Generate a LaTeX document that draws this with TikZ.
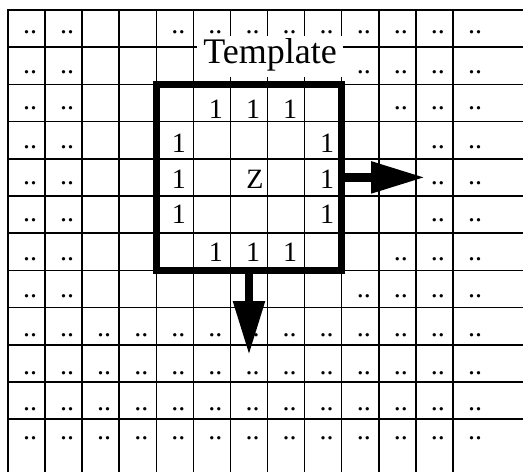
\documentclass[tikz,border=0pt]{standalone}
\usepackage{fontspec}
\setmainfont{Liberation Serif}
\usetikzlibrary{arrows.meta}
\begin{document}
\begin{tikzpicture}[x=1pt,y=-1pt,
  gridline/.style={line width=1.5pt, black, line cap=rect},
  dotlbl/.style={font=\fontsize{28}{30}\selectfont, anchor=base, inner sep=0pt},
  numlbl/.style={font=\fontsize{28}{30}\selectfont, anchor=base, inner sep=0pt},
  tmplbox/.style={draw, line width=6.5pt, minimum width=185.4pt, minimum height=186pt, inner sep=0pt},
  bigarrow/.style={line width=8.5pt, -{Triangle[length=54pt,width=30pt]}},
  lbl/.style={font=\fontsize{36}{40}\selectfont, fill=white, anchor=base, text height=23pt, text depth=10pt, inner xsep=6pt, inner ysep=4pt}
]
\useasboundingbox (0,0) rectangle (523,472);
% grid
\foreach \i in {0,...,12} \draw[gridline] ({8+37.08*\i},10) -- ({8+37.08*\i},472);
\foreach \j in {0,...,11} \draw[gridline] (8,{10+37.2*\j}) -- (523,{10+37.2*\j});
% dots
\foreach \r/\b/\cols in {
  1/33.5/{1,2,5,6,7,8,9,10,11,12,13},
  2/73.5/{1,2,10,11,12,13},
  3/109.5/{1,2,11,12,13},
  4/148.5/{1,2,12,13},
  5/184.5/{1,2,12,13},
  6/221.5/{1,2,12,13},
  7/260.5/{1,2,11,12,13},
  8/297.5/{1,2,10,11,12,13},
  9/336.5/{1,2,3,4,5,6,7,8,9,10,11,12,13},
  10/374.5/{1,2,3,4,5,6,7,8,9,10,11,12,13},
  11/410.5/{1,2,3,4,5,6,7,8,9,10,11,12,13},
  12/439.5/{1,2,3,4,5,6,7,8,9,10,11,12,13}}{
  \foreach \c in \cols {
    \node[dotlbl] (d-\r-\c) at ({8+37.08*(\c-0.5)+3.5},\b) {..};
  }
}
% numbers inside template
\foreach \r/\c/\b in {3/6/118, 3/7/118, 3/8/118, 4/5/152, 4/9/152, 5/5/188, 5/9/188, 6/5/223, 6/9/223, 7/6/261, 7/7/261, 7/8/261}{
  \node[numlbl] (n-\r-\c) at ({8+37.08*(\c-0.5)+4},\b) {1};
}
\node[numlbl] (z) at (255,188) {Z};
% template box
\node[tmplbox] (tmpl) at (249,177.4) {};
% label
\node[lbl] (title) at (270,63) {Template};
% arrows
\coordinate (rtip) at (425,177.4);
\coordinate (dtip) at (249,355);
\draw[bigarrow] (tmpl.east) -- (rtip);
\draw[bigarrow] (tmpl.south) -- (dtip);
\end{tikzpicture}
\end{document}
